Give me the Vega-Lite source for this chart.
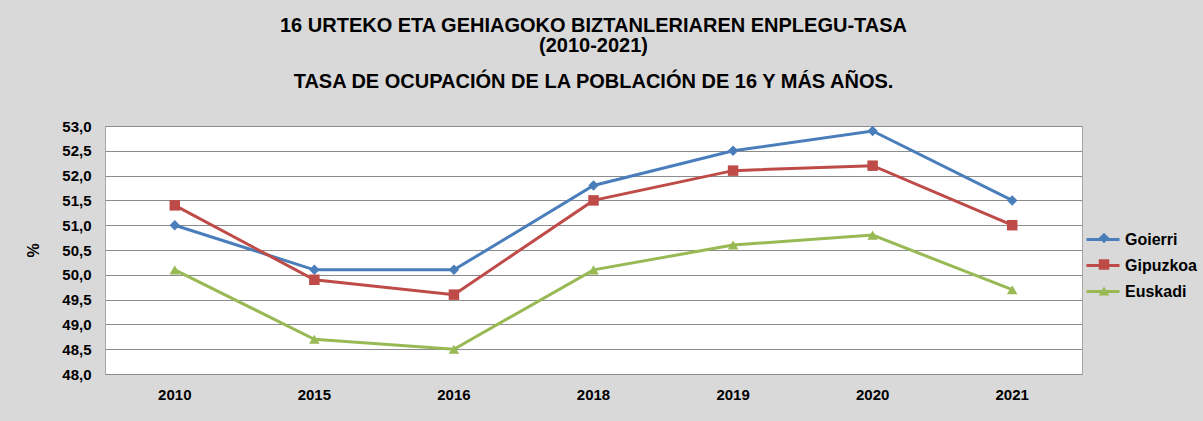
{
  "$schema": "https://vega.github.io/schema/vega-lite/v6.json",
  "width": 977,
  "height": 248,
  "autosize": {"type": "none"},
  "padding": {"left": 105, "top": 126, "right": 121, "bottom": 47},
  "background": "#d9d9d9",
  "config": {
    "locale": {"number": {"decimal": ",", "thousands": ".", "grouping": [3], "currency": ["", " €"]}},
    "font": "Liberation Sans",
    "view": {"fill": "white", "stroke": "#a6a6a6", "strokeWidth": 1}
  },
  "title": {
    "text": ["16 URTEKO ETA GEHIAGOKO BIZTANLERIAREN ENPLEGU-TASA", "(2010-2021)"],
    "subtitle": "TASA DE OCUPACIÓN DE LA POBLACIÓN DE 16 Y MÁS AÑOS.",
    "anchor": "middle",
    "frame": "group",
    "fontSize": 20,
    "fontWeight": "bold",
    "font": "Liberation Sans",
    "color": "black",
    "lineHeight": 20,
    "subtitleFontSize": 20,
    "subtitleFontWeight": "bold",
    "subtitleFont": "Liberation Sans",
    "subtitleColor": "black",
    "subtitlePadding": 16,
    "offset": 27
  },
  "data": {
    "values": [
      {"year": "2010", "serie": "Goierri", "value": 51.0},
      {"year": "2015", "serie": "Goierri", "value": 50.1},
      {"year": "2016", "serie": "Goierri", "value": 50.1},
      {"year": "2018", "serie": "Goierri", "value": 51.8},
      {"year": "2019", "serie": "Goierri", "value": 52.5},
      {"year": "2020", "serie": "Goierri", "value": 52.9},
      {"year": "2021", "serie": "Goierri", "value": 51.5},
      {"year": "2010", "serie": "Gipuzkoa", "value": 51.4},
      {"year": "2015", "serie": "Gipuzkoa", "value": 49.9},
      {"year": "2016", "serie": "Gipuzkoa", "value": 49.6},
      {"year": "2018", "serie": "Gipuzkoa", "value": 51.5},
      {"year": "2019", "serie": "Gipuzkoa", "value": 52.1},
      {"year": "2020", "serie": "Gipuzkoa", "value": 52.2},
      {"year": "2021", "serie": "Gipuzkoa", "value": 51.0},
      {"year": "2010", "serie": "Euskadi", "value": 50.1},
      {"year": "2015", "serie": "Euskadi", "value": 48.7},
      {"year": "2016", "serie": "Euskadi", "value": 48.5},
      {"year": "2018", "serie": "Euskadi", "value": 50.1},
      {"year": "2019", "serie": "Euskadi", "value": 50.6},
      {"year": "2020", "serie": "Euskadi", "value": 50.8},
      {"year": "2021", "serie": "Euskadi", "value": 49.7}
    ]
  },
  "transform": [{"calculate": "datum.serie", "as": "marker"}],
  "encoding": {
    "x": {
      "field": "year", "type": "ordinal",
      "scale": {"type": "band", "paddingInner": 0, "paddingOuter": 0},
      "axis": {
        "title": null, "labelAngle": 0, "grid": false, "ticks": false, "domain": false,
        "labelFontSize": 15, "labelFontWeight": "bold", "labelColor": "black", "labelPadding": 13
      }
    },
    "y": {
      "field": "value", "type": "quantitative",
      "scale": {"domain": [48, 53], "nice": false, "zero": false},
      "axis": {
        "title": "%", "titleFontSize": 16, "titleFontWeight": "bold", "titleColor": "black", "titlePadding": 20,
        "values": [48, 48.5, 49, 49.5, 50, 50.5, 51, 51.5, 52, 52.5, 53],
        "format": ".1f",
        "labelFontSize": 15, "labelFontWeight": "bold", "labelColor": "black", "labelPadding": 14,
        "ticks": false, "domain": false,
        "grid": true, "gridColor": "#8c8c8c", "gridWidth": 1
      }
    }
  },
  "resolve": {"scale": {"color": "independent", "shape": "independent"}},
  "layer": [
    {
      "mark": {"type": "line", "strokeWidth": 3},
      "encoding": {
        "color": {
          "field": "serie", "type": "nominal",
          "sort": ["Goierri", "Gipuzkoa", "Euskadi"],
          "scale": {"range": ["#4a7ebb", "#be4b48", "#98b954"]},
          "legend": {
            "title": null, "orient": "none", "legendX": 980, "legendY": 95.5,
            "labelFontSize": 16, "labelFontWeight": "bold", "labelColor": "black",
            "symbolType": "stroke", "symbolSize": 1089, "symbolStrokeWidth": 3,
            "rowPadding": -6.5, "labelOffset": 4, "padding": 0
          }
        }
      }
    },
    {
      "mark": {"type": "point", "filled": true, "opacity": 1, "size": 110},
      "encoding": {
        "color": {
          "field": "marker", "type": "nominal",
          "sort": ["Goierri", "Gipuzkoa", "Euskadi"],
          "scale": {"domain": ["Goierri", "Gipuzkoa", "Euskadi"], "range": ["#4a7ebb", "#be4b48", "#98b954"]},
          "legend": {
            "title": null, "orient": "none", "legendX": 991, "legendY": 104,
            "labelFontSize": 16, "labelExpr": "''",
            "symbolSize": 110, "symbolStrokeWidth": 0, "symbolOpacity": 1,
            "rowPadding": 10.5, "labelOffset": 4, "padding": 0
          }
        },
        "shape": {
          "field": "marker", "type": "nominal",
          "sort": ["Goierri", "Gipuzkoa", "Euskadi"],
          "scale": {"domain": ["Goierri", "Gipuzkoa", "Euskadi"], "range": ["diamond", "square", "triangle-up"]},
          "legend": {
            "title": null, "orient": "none", "legendX": 991, "legendY": 104,
            "labelFontSize": 16, "labelExpr": "''",
            "symbolSize": 110, "symbolStrokeWidth": 0, "symbolOpacity": 1,
            "rowPadding": 10.5, "labelOffset": 4, "padding": 0
          }
        }
      }
    }
  ]
}
